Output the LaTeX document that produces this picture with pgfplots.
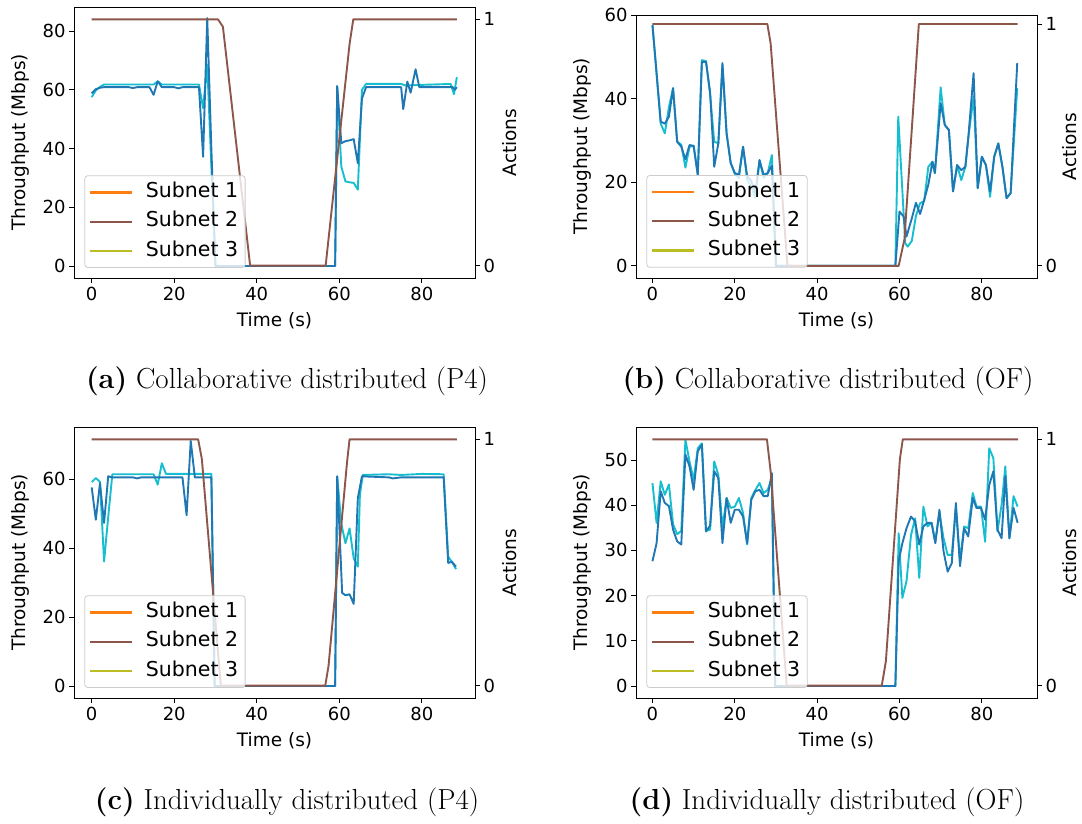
\documentclass[border=0pt]{standalone}
\usepackage{fontspec}
\usepackage{pgfplots}
\pgfplotsset{compat=1.18}
\newfontfamily\dejavu{DejaVu Sans}
\definecolor{tabblue}{HTML}{1F77B4}
\definecolor{tabcyan}{HTML}{17BECF}
\definecolor{taborange}{HTML}{FF7F0E}
\definecolor{tabbrown}{HTML}{8C564B}
\definecolor{tabolive}{HTML}{BCBD22}
\definecolor{legedge}{HTML}{CCCCCC}
\newcommand\tickfont{\dejavu\fontsize{18}{18}\selectfont}
\newcommand\labfont{\dejavu\fontsize{18.5}{18.5}\selectfont}
\newcommand\legfont{\dejavu\fontsize{20.5}{20.5}\selectfont}
\newcommand\capfont{\fontsize{29}{34}\selectfont}

\pgfplotsset{
  common/.style={scale only axis, width=401pt, anchor=north west,
    tick align=outside, major tick length=5pt,
    every tick/.style={black, line width=0.9pt},
    axis line style={black, line width=0.9pt},
    ticklabel style={font=\tickfont, text=black},
    /pgf/number format/assume math mode=true,
    xticklabel style={yshift=-1pt},
  },
  leftax/.style={common, xtick pos=bottom, ytick pos=left, xtick={0,20,40,60,80}},
  rightax/.style={common, axis y line*=right, axis x line=none,
    ymin=-0.05, ymax=1.05, ytick={0,1},
    legend style={at={(axis description cs:0.026,0.037)}, anchor=south west,
      draw=legedge, line width=0.8pt, rounded corners=3pt, fill=white, fill opacity=0.8,
      text opacity=1, font=\legfont, inner xsep=4pt, inner ysep=4.5pt, row sep=4.7pt,
      nodes={inner sep=3pt, text height=14.5pt, text depth=4pt}},
    legend cell align=left,
    legend image code/.code={\path[draw=none, fill=none] (0pt,0pt) -- (53pt,0pt);\draw[#1, line width=2.2pt] (0pt,0pt) -- (42pt,0pt);},
  },
  tp/.style={line width=1.9pt, line join=round},
  act/.style={line width=1.9pt, line join=round},
}

\begin{document}
\begin{tikzpicture}
\useasboundingbox (0pt,0pt) rectangle (1082pt,-823pt);

%% ---------------- (a) ----------------
\begin{axis}[leftax, at={(74pt,-7pt)}, height=271pt, xmin=-4.29, xmax=92.9, ymin=-4.09, ymax=88.2, ytick={0,20,40,60,80}]
\addplot[tp, tabcyan] coordinates {(0,57.5)(1,59.8)(2,61)(3,61.8)(15,61.8)(16,62.9)(17,61.8)(26,61.8)(27,53.7)(28,68.5)(29,34)(30,0)(59,0)(59.5,61)(60.5,33.8)(61.5,28.8)(62.5,28.5)(63.5,28.3)(64.5,26)(65.5,60)(66.5,62)(75,62)(76,61.5)(87,62)(87.8,58.5)(88.5,64.3)};
\addplot[tp, tabblue] coordinates {(0,58.8)(1,60.2)(2,60.7)(3,60.9)(9,60.9)(10,60.6)(11,60.9)(14,60.9)(15,58.3)(16,62.9)(17,60.9)(20,60.9)(21,60.5)(22,60.9)(26,60.9)(27,37.2)(28,84.4)(29,40)(30,0)(59,0)(59.5,61.3)(60.5,41.8)(61.5,42.5)(62.5,42.8)(63.5,43.2)(64.5,35)(65.5,57)(66.5,60.9)(75,60.9)(75.5,53.4)(76.5,62.8)(77.3,59)(78.5,67)(79.4,60.9)(87.5,60.9)(88,60)(88.5,60.9)};
\end{axis}
\begin{axis}[rightax, at={(74pt,-7pt)}, height=271pt, xmin=-4.29, xmax=92.9]
\addlegendimage{act, taborange}
\addlegendentry{Subnet 1}
\addplot[act, tabbrown] coordinates {(0,1)(30.6,1)(31.8,0.97)(38.4,0)(56.7,0)(62.5,0.9)(63.4,1)(88.5,1)};
\addlegendentry{Subnet 2}
\addlegendimage{act, tabolive}
\addlegendentry{Subnet 3}
\end{axis}

%% ---------------- (b) ----------------
\begin{axis}[leftax, at={(636pt,-15pt)}, height=263pt, xmin=-4.0, xmax=93.4, ymin=-2.9, ymax=60, ytick={0,20,40,60}]
\addplot[tp, tabcyan] coordinates {(0,57.6)(1,46)(2,34)(3,31.7)(4,38)(5,42.5)(6,29.7)(7,29)(8,23.5)(9,28.5)(10,28.7)(11,21.8)(12,49.2)(13,49)(14,41)(15,29.7)(16,29.3)(17,48)(18,31.7)(19,24.6)(20,22)(21,21)(22,28.5)(23,20.6)(24,19)(25,16.2)(26,25.3)(27,21)(28,22.2)(29,26.5)(30,0)(59,0)(59.7,35.7)(61.4,5.4)(62,4.6)(63,6)(64,12)(65,15)(66,15.5)(67,23.7)(68,24.9)(68.6,22.2)(70,42.7)(71,33.7)(72,32.5)(73,17.8)(74,24.1)(75,20.5)(76,23.7)(76.7,30.5)(78,40.5)(79,18.6)(80,26.1)(81,24.1)(82,16.5)(83,26.1)(84,29.3)(85,23.7)(86,16.2)(87,17.4)(88.6,42.5)};
\addplot[tp, tabblue] coordinates {(0,57.6)(1,46)(2,34.5)(3,34)(4,35.7)(5,42.5)(6,29.7)(7,28.5)(8,25.5)(9,28.9)(10,28.7)(11,21.8)(12,48.8)(13,48.8)(14,41.5)(15,23.7)(16,29.3)(17,48.5)(18,31.7)(19,24.6)(20,22.2)(21,21.8)(22,28.5)(23,21.4)(24,20.3)(25,17.5)(26,25.3)(27,21.8)(28,22.2)(29,24)(30,0)(59,0)(60,13)(61,11.8)(61.7,7)(63,11.4)(64,15.1)(65,12.4)(66,15.8)(67,19.4)(68,24.9)(68.6,22.2)(70,38.9)(71,33.7)(72,32.5)(73,17.8)(74,24.1)(75,22.9)(76,23.7)(76.7,30.5)(78,46.1)(79,18.6)(80,26.1)(81,24.1)(82,17.8)(83,26.1)(84,29.3)(85,23.7)(86,16.2)(87,17.4)(88.6,48.5)};
\end{axis}
\begin{axis}[rightax, at={(636pt,-15pt)}, height=263pt, xmin=-4.0, xmax=93.4, ymax=1.037,
  legend style={at={(axis description cs:0.026,0.039)}}]
\addlegendimage{act, taborange}
\addlegendentry{Subnet 1}
\addplot[act, tabbrown] coordinates {(0,1)(27.9,1)(28.7,0.92)(32.8,0)(59.8,0)(61.2,0.11)(64.7,1)(88.7,1)};
\addlegendentry{Subnet 2}
\addlegendimage{act, tabolive}
\addlegendentry{Subnet 3}
\end{axis}

%% ---------------- (c) ----------------
\begin{axis}[leftax, at={(74pt,-427pt)}, height=271pt, xmin=-4.29, xmax=92.9, ymin=-3.48, ymax=75.1, ytick={0,20,40,60}]
\addplot[tp, tabcyan] coordinates {(0,59.1)(1,60.3)(2,59.2)(3,36.1)(4,49)(5,61.4)(15,61.4)(16,58.4)(17,64.6)(18,61.5)(29,61.5)(29.8,0)(59,0)(59.5,60.8)(60.5,47)(61.5,41.4)(62.5,45.7)(63.5,37)(64.5,34.6)(65,55.4)(65.7,61.2)(72,61.4)(75,61.2)(80,61.5)(85.3,61.4)(86.4,37.5)(87.3,36)(88.3,33.9)};
\addplot[tp, tabblue] coordinates {(0,57.6)(1,48.2)(2,58.8)(3,47.3)(4,60.8)(5,60.5)(10,60.5)(11,60.2)(12,60.5)(22,60.5)(23,49.5)(24,71.1)(25,60.5)(29,60.5)(29.8,0)(59,0)(59.5,60.8)(60.7,27)(61.5,26.3)(62.5,26.6)(63.5,23.8)(64.5,54.5)(65.5,60.8)(72,60.5)(73,60.2)(75,60.5)(85.3,60.5)(86.4,35.7)(87.3,36)(88.3,34.6)};
\end{axis}
\begin{axis}[rightax, at={(74pt,-427pt)}, height=271pt, xmin=-4.29, xmax=92.9]
\addlegendimage{act, taborange}
\addlegendentry{Subnet 1}
\addplot[act, tabbrown] coordinates {(0,1)(25.8,1)(26.7,0.92)(31.3,0)(56.6,0)(57.4,0.08)(61.9,0.91)(62.5,1)(88.5,1)};
\addlegendentry{Subnet 2}
\addlegendimage{act, tabolive}
\addlegendentry{Subnet 3}
\end{axis}

%% ---------------- (d) ----------------
\begin{axis}[leftax, at={(636pt,-427pt)}, height=271pt, xmin=-4.0, xmax=93.4, ymin=-2.65, ymax=57.3, ytick={0,10,20,30,40,50}]
\addplot[tp, tabcyan] coordinates {(0,44.9)(1,36.1)(2,45.3)(3,42.3)(4,44.6)(5,35.8)(6,33.6)(7,34.3)(8,54.5)(9,49.7)(10,45.6)(11,52.6)(12,53.7)(13,34.3)(14,34.6)(15,49.7)(16,46.7)(17,35)(18,41.6)(19,39.4)(20,39.7)(21,41.6)(22,38.3)(23,31.3)(24,41.6)(25,43.4)(26,44.9)(27,42.7)(28,43.4)(29,46)(29.8,0)(59,0)(59.8,33.8)(60.7,19.5)(61.7,23.2)(62.8,33.4)(63.8,37.1)(64.8,23.9)(65.8,39.7)(66.8,35.3)(67.8,36.1)(68.7,31.9)(69.7,38.3)(70.7,32.7)(71.7,29)(72.7,29)(73.7,39.4)(74.7,27.9)(75.7,35.3)(76.7,34.9)(77.8,42.7)(78.7,39.7)(79.8,39.7)(80.8,31.9)(81.8,52.6)(82.8,50.4)(83.8,34.2)(84.8,40.1)(85.7,48.6)(86.7,32.7)(87.7,42)(88.7,39.7)};
\addplot[tp, tabblue] coordinates {(0,27.6)(1,31.6)(2,43.1)(3,40.5)(4,39.8)(5,34.6)(6,32)(7,31.3)(8,51.2)(9,48.6)(10,43.4)(11,51.9)(12,53.4)(13,34.2)(14,35.5)(15,47.5)(16,46)(17,31.6)(18,41.6)(19,36.1)(20,39)(21,39)(22,37.5)(23,31.6)(24,41.2)(25,43.1)(26,43.4)(27,42)(28,42)(29,47.1)(29.8,0)(59,0)(59.8,27.6)(60.7,31.6)(61.7,34.9)(62.8,37.5)(63.8,36.4)(64.8,31.3)(65.8,35.3)(66.8,36.1)(67.8,36.1)(68.7,31.6)(69.7,39)(70.7,29.8)(71.7,25.3)(72.7,27.2)(73.7,40.5)(74.7,26.5)(75.7,34.9)(76.7,33.1)(77.8,41.6)(78.7,39.4)(79.8,39.4)(80.8,36.8)(81.8,44.5)(82.8,47.5)(83.8,34.6)(84.8,32.7)(85.7,46.4)(86.7,32.7)(87.7,39.4)(88.7,36.1)};
\end{axis}
\begin{axis}[rightax, at={(636pt,-427pt)}, height=271pt, xmin=-4.0, xmax=93.4]
\addlegendimage{act, taborange}
\addlegendentry{Subnet 1}
\addplot[act, tabbrown] coordinates {(0,1)(27.8,1)(28.7,0.87)(32.6,0)(55.7,0)(56.7,0.1)(60.1,0.92)(60.8,1)(88.8,1)};
\addlegendentry{Subnet 2}
\addlegendimage{act, tabolive}
\addlegendentry{Subnet 3}
\end{axis}

%% ---------------- labels ----------------
\node[font=\labfont, rotate=90] at (20pt,-142.5pt) {Throughput (Mbps)};
\node[font=\labfont, rotate=90] at (582pt,-146.5pt) {Throughput (Mbps)};
\node[font=\labfont, rotate=90] at (20pt,-562.5pt) {Throughput (Mbps)};
\node[font=\labfont, rotate=90] at (582pt,-562.5pt) {Throughput (Mbps)};
\node[font=\labfont, rotate=90] at (510pt,-142.5pt) {Actions};
\node[font=\labfont, rotate=90] at (1070pt,-146.5pt) {Actions};
\node[font=\labfont, rotate=90] at (510pt,-562.5pt) {Actions};
\node[font=\labfont, rotate=90] at (1070pt,-562.5pt) {Actions};
\node[font=\labfont] at (274.5pt,-321pt) {Time (s)};
\node[font=\labfont] at (836.5pt,-321pt) {Time (s)};
\node[font=\labfont] at (274.5pt,-741pt) {Time (s)};
\node[font=\labfont] at (836.5pt,-741pt) {Time (s)};
\node[font=\capfont] at (287pt,-381pt) {\textbf{(a)} Collaborative distributed (P4)};
\node[font=\capfont] at (828pt,-381pt) {\textbf{(b)} Collaborative distributed (OF)};
\node[font=\capfont] at (287pt,-802pt) {\textbf{(c)} Individually distributed (P4)};
\node[font=\capfont] at (827pt,-802pt) {\textbf{(d)} Individually distributed (OF)};
\end{tikzpicture}
\end{document}
